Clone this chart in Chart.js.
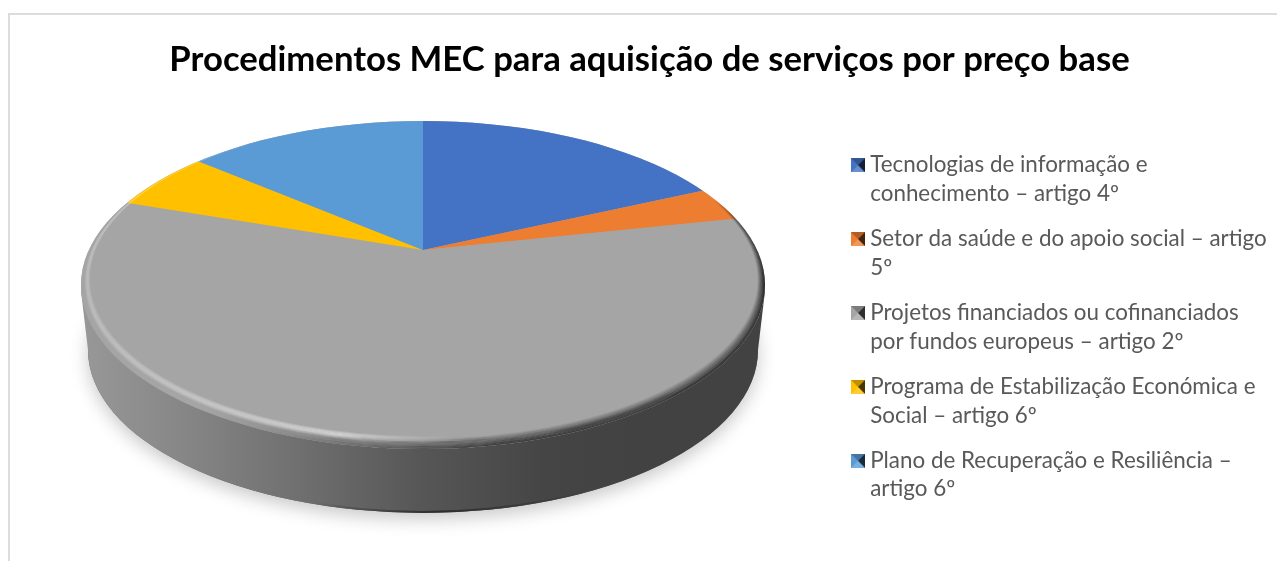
<!DOCTYPE html>
<html><head><meta charset="utf-8">
<style>html,body{margin:0;padding:0;background:#fff}canvas{display:block}#w{width:1277px;height:561px}</style>
<script src="https://cdn.jsdelivr.net/npm/chart.js@4"></script>
</head><body><div id="w"><canvas id="c" width="1277" height="561"></canvas></div>
<script>
const chartTitle = 'Procedimentos MEC para aquisição de serviços por preço base';
const categories = [
  ['Tecnologias de informação e','conhecimento – artigo 4º'],
  ['Setor da saúde e do apoio social – artigo','5º'],
  ['Projetos financiados ou cofinanciados','por fundos europeus – artigo 2º'],
  ['Programa de Estabilização Económica e','Social – artigo 6º'],
  ['Plano de Recuperação e Resiliência –','artigo 6º']
];
const values = [18.5, 3.3, 58.2, 5.8, 14.2];
const colors = ['#4472C4','#ED7D31','#A5A5A5','#FFC000','#5B9BD5'];

const vertex = {x:423, y:250};
const face = {x:423, y:285, rx:342, ry:164};
const base = {x:423, y:350, rx:335, ry:163};
const tilt = 0.49, reach = 760;

function ellipsePath(ctx,e){ctx.beginPath();ctx.ellipse(e.x,e.y,e.rx,e.ry,0,0,Math.PI*2);}
function marker(color){
  const m=document.createElement('canvas');m.width=14;m.height=14;
  const g=m.getContext('2d'),t=(pts,fill,al)=>{g.beginPath();pts.forEach((p,i)=>i?g.lineTo(p[0],p[1]):g.moveTo(p[0],p[1]));g.closePath();g.fillStyle=fill;g.globalAlpha=al;g.fill();g.globalAlpha=1;};
  g.fillStyle=color;g.fillRect(0,0,14,14);
  t([[0,0],[14,0],[7,7]],'#000',.25);
  t([[14,0],[14,14],[7,7]],'#000',.72);
  t([[0,14],[14,14],[7,7]],'#fff',.2);
  return m;
}
const pie3d = {
  id:'pie3d',
  afterLayout(chart){
    const l=chart.legend;
    l.left=840;l.right=1277;l.top=137;l.bottom=561;
  },
  beforeDraw(chart){
    const c=chart.ctx;c.save();
    c.fillStyle='#fff';c.fillRect(0,0,1277,561);
    c.strokeStyle='#dcdcdc';c.lineWidth=2;
    c.beginPath();c.moveTo(9,561);c.lineTo(9,14);c.lineTo(1277,14);c.stroke();
    c.restore();
  },
  beforeDatasetDraw(chart){
    const c=chart.ctx,a=chart.getDatasetMeta(0).data[0];
    c.save();
    c.save();
    c.shadowColor='rgba(0,0,0,.22)';c.shadowBlur=18;c.shadowOffsetY=6;
    c.fillStyle='#666';ellipsePath(c,base);c.fill();
    c.restore();
    const g=c.createLinearGradient(face.x-face.rx,0,face.x+face.rx,0);
    [[0,'#989898'],[.12,'#8a8a8a'],[.3,'#727272'],[.5,'#565656'],[.68,'#454545'],[.8,'#424242'],[1,'#424242']].forEach(s=>g.addColorStop(s[0],s[1]));
    c.fillStyle=g;
    ellipsePath(c,base);c.fill();
    c.beginPath();
    c.moveTo(face.x-face.rx,face.y+6);c.lineTo(base.x-base.rx,base.y);c.lineTo(base.x+base.rx,base.y);c.lineTo(face.x+face.rx,face.y+6);c.closePath();c.fill();
    c.save();ellipsePath(c,base);c.clip();
    const e=c.createLinearGradient(base.x-110,0,base.x+170,0);
    e.addColorStop(0,'rgba(40,40,40,0)');e.addColorStop(.45,'rgba(40,40,40,.9)');e.addColorStop(1,'rgba(40,40,40,0)');
    c.strokeStyle=e;c.lineWidth=4;ellipsePath(c,base);c.stroke();
    c.restore();
    ellipsePath(c,face);c.fillStyle='#a5a5a5';c.fill();c.clip();
    const s=reach/a.outerRadius;
    c.translate(vertex.x,vertex.y);c.scale(s,s*tilt);c.translate(-a.x,-a.y);
  },
  afterDatasetDraw(chart){
    const c=chart.ctx;
    c.restore();
    c.save();
    ellipsePath(c,face);c.clip();
    const light=c.createConicGradient(0,face.x,face.y);
    [[0,0],[.22,0],[.27,.2],[.33,.55],[.4,.38],[.5,.16],[.56,.05],[.62,0],[1,0]].forEach(s=>light.addColorStop(s[0],`rgba(255,255,255,${s[1]})`));
    const dark=c.createConicGradient(0,face.x,face.y);
    [[0,.7],[.12,.75],[.2,.7],[.25,.55],[.3,.42],[.36,.2],[.42,0],[.955,0],[.985,.4],[1,.7]].forEach(s=>dark.addColorStop(s[0],`rgba(0,0,0,${s[1]})`));
    const ring=(d,w,style,al)=>{
      c.globalAlpha=al;c.strokeStyle=style;c.lineWidth=w;
      c.beginPath();c.ellipse(face.x,face.y-d*.5,face.rx-d*.7,face.ry-d*.5,0,0,Math.PI*2);c.stroke();
    };
    for(let i=0;i<8;i++){ring(6+i*.9,1.2,light,Math.sin((i+1)/9*Math.PI)*.9);}
    for(let i=0;i<12;i++){ring(i*.9,1.2,dark,(1-i/12)*.85);}
    c.restore();
  }
};
new Chart(document.getElementById('c'),{
  type:'pie',
  data:{labels:categories,datasets:[{data:values,backgroundColor:colors,borderWidth:0,clip:false}]},
  options:{
    responsive:false,animation:false,events:[],
    layout:{padding:{left:22}},
    plugins:{
      title:{display:true,text:chartTitle,color:'#000',font:{family:'Lato',size:34.7,weight:'700',lineHeight:1.2},padding:{top:39,bottom:10}},
      legend:{position:'right',align:'start',
        labels:{color:'#595959',font:{family:'Lato',size:22.4,lineHeight:1.27},padding:17,pointStyleWidth:2,boxHeight:14,usePointStyle:true,
          generateLabels:ch=>categories.map((t,i)=>({text:t,fillStyle:colors[i],fontColor:'#595959',pointStyle:marker(colors[i]),strokeStyle:'transparent',lineWidth:0,index:i,hidden:false}))}},
      tooltip:{enabled:false}
    }
  },
  plugins:[pie3d]
});
</script></body></html>
